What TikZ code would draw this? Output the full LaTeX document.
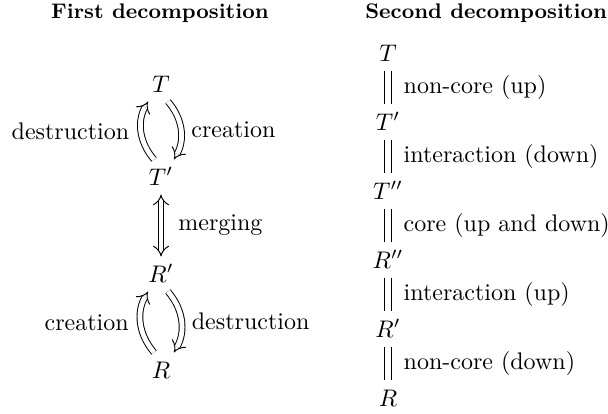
\documentclass[tikz,border=0pt]{standalone}
\usetikzlibrary{arrows.meta}
\begin{document}
\begin{tikzpicture}[x=0.4167pt,y=-0.4167pt,
  mnode/.style={inner xsep=1pt, inner ysep=3.6pt, text height=7pt, text depth=0pt},
  titlefont/.style={inner sep=0pt, font=\bfseries\fontsize{8.8}{11}\selectfont},
  dblarrow/.style={double, double distance=2pt, line width=0.4pt, -{Implies}},
  dblboth/.style={double, double distance=2pt, line width=0.4pt, {Implies}-{Implies}},
  barline/.style={line width=0.4pt}
]
\useasboundingbox (0,0) rectangle (608,414);

% titles
\node[titlefont, anchor=base] (t1) at (160,18) {First decomposition};
\node[titlefont, anchor=base east] (t2) at (607.5,18) {Second decomposition};

% first decomposition
\node[mnode] (T)  at (161,84)  {$T$};
\node[mnode] (T1) at (161,177) {$T'$};
\node[mnode] (R1) at (161,274) {$R'$};
\node[mnode] (R)  at (161,370) {$R$};

\draw[dblarrow] ([xshift=-2.9pt]T1.north) to[bend left=35]
  node[midway, left=1.5pt] (l1) {destruction} ([xshift=-5.4pt]T.south);
\draw[dblarrow] ([xshift=2.9pt]T.south) to[bend left=35]
  node[midway, right=0.9pt] (l2) {creation} ([xshift=5.4pt]T1.north);
\draw[dblboth] (T1) -- node[midway, right=3.7pt] (l3) {merging} (R1);
\draw[dblarrow] ([xshift=-2.9pt]R.north) to[bend left=35]
  node[midway, left=1.5pt] (l4) {creation} ([xshift=-5.4pt]R1.south);
\draw[dblarrow] ([xshift=2.9pt]R1.south) to[bend left=35]
  node[midway, right=0.9pt] (l5) {destruction} ([xshift=5.4pt]R.north);

% second decomposition
\node[mnode] (S0) at (388,53)  {$T$};
\node[mnode] (S1) at (388,122) {$T'$};
\node[mnode] (S2) at (388,191) {$T''$};
\node[mnode] (S3) at (388,260) {$R''$};
\node[mnode] (S4) at (388,329) {$R'$};
\node[mnode] (S5) at (388,398) {$R$};

\draw[barline] ([xshift=-1.3pt]S0.south) -- ([xshift=-1.3pt]S1.north);
\draw[barline] ([xshift=1.3pt]S0.south) -- node[midway, right=1.7pt] (m1) {non-core (up)} ([xshift=1.3pt]S1.north);
\draw[barline] ([xshift=-1.3pt]S1.south) -- ([xshift=-1.3pt]S2.north);
\draw[barline] ([xshift=1.3pt]S1.south) -- node[midway, right=1.7pt] (m2) {interaction (down)} ([xshift=1.3pt]S2.north);
\draw[barline] ([xshift=-1.3pt]S2.south) -- ([xshift=-1.3pt]S3.north);
\draw[barline] ([xshift=1.3pt]S2.south) -- node[midway, right=1.7pt] (m3) {core (up and down)} ([xshift=1.3pt]S3.north);
\draw[barline] ([xshift=-1.3pt]S3.south) -- ([xshift=-1.3pt]S4.north);
\draw[barline] ([xshift=1.3pt]S3.south) -- node[midway, right=1.7pt] (m4) {interaction (up)} ([xshift=1.3pt]S4.north);
\draw[barline] ([xshift=-1.3pt]S4.south) -- ([xshift=-1.3pt]S5.north);
\draw[barline] ([xshift=1.3pt]S4.south) -- node[midway, right=1.7pt] (m5) {non-core (down)} ([xshift=1.3pt]S5.north);
\end{tikzpicture}
\end{document}
